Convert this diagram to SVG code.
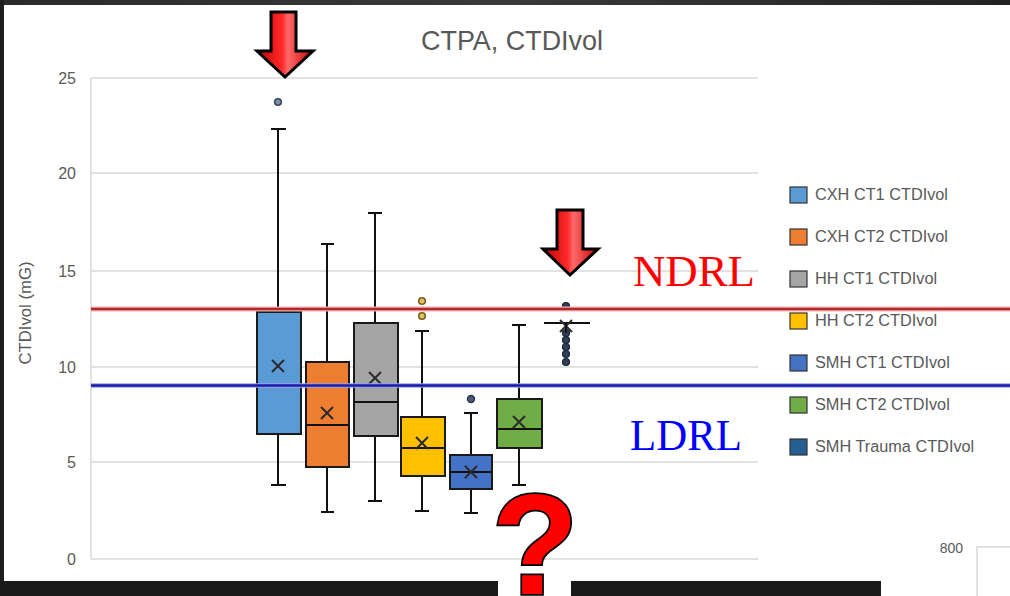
<svg xmlns="http://www.w3.org/2000/svg" width="1010" height="596" viewBox="0 0 1010 596">
<defs>
<linearGradient id="arrowFill" x1="0" y1="0" x2="1" y2="0">
<stop offset="0" stop-color="#c00000"/>
<stop offset="0.45" stop-color="#ff2a2a"/>
<stop offset="0.55" stop-color="#ff6a6a"/>
<stop offset="1" stop-color="#c80000"/>
</linearGradient>
<linearGradient id="topBand" x1="0" y1="0" x2="1" y2="0">
<stop offset="0" stop-color="#2a2a2a"/>
<stop offset="0.5" stop-color="#3a3a3a"/>
<stop offset="1" stop-color="#222"/>
</linearGradient>
</defs>
<style>
.grid{stroke:#d9d9d9;stroke-width:1.5;fill:none}
.axis{font-family:"Liberation Sans",Arial,sans-serif;font-size:16px;fill:#595959}
.leg{font-family:"Liberation Sans",Arial,sans-serif;font-size:16.3px;fill:#595959}
.box{stroke:#1a1a1a;stroke-width:2}
.wh{stroke:#111;stroke-width:2;fill:none}
.mean{stroke:#2b2b2b;stroke-width:2;fill:none}
.sw{stroke:#333;stroke-width:1.2}
.arrow{fill:url(#arrowFill);stroke:#000;stroke-width:3;stroke-linejoin:miter}
.ref{font-family:"Liberation Serif","Times New Roman",serif;font-size:44px}
</style>
<rect width="1010" height="596" fill="#ffffff"/>
<rect x="0" y="0" width="1010" height="5" fill="url(#topBand)"/>
<rect x="0" y="0" width="4" height="596" fill="#1e1e1e"/>
<rect x="0" y="581" width="881" height="15" fill="#1a1a1a"/>

<g id="chart-frame">
<text x="512" y="50" text-anchor="middle" font-family="Liberation Sans, Arial, sans-serif" font-size="28" fill="#595959" textLength="182" lengthAdjust="spacingAndGlyphs">CTPA, CTDIvol</text>
<line class="grid" x1="91" y1="78" x2="758" y2="78"/>
<line class="grid" x1="91" y1="173" x2="758" y2="173"/>
<line class="grid" x1="91" y1="271" x2="758" y2="271"/>
<line class="grid" x1="91" y1="367" x2="758" y2="367"/>
<line class="grid" x1="91" y1="462" x2="758" y2="462"/>
<line class="grid" x1="91" y1="559" x2="758" y2="559"/>
<line class="grid" x1="91" y1="78" x2="91" y2="559"/>
<text class="axis" x="76" y="84" text-anchor="end">25</text>
<text class="axis" x="76" y="179" text-anchor="end">20</text>
<text class="axis" x="76" y="277" text-anchor="end">15</text>
<text class="axis" x="76" y="373" text-anchor="end">10</text>
<text class="axis" x="76" y="468" text-anchor="end">5</text>
<text class="axis" x="76" y="565" text-anchor="end">0</text>
<text class="axis" transform="translate(31,313) rotate(-90)" text-anchor="middle" font-size="15" textLength="103" lengthAdjust="spacingAndGlyphs">CTDIvol (mG)</text>
</g>

<g id="box-cxh-ct1">
<line class="wh" x1="278" y1="129" x2="278" y2="312"/>
<line class="wh" x1="271" y1="129" x2="286" y2="129"/>
<line class="wh" x1="278" y1="434" x2="278" y2="485"/>
<line class="wh" x1="271" y1="485" x2="286" y2="485"/>
<rect class="box" x="257" y="312" width="44" height="122" fill="#5b9bd5"/>
<line class="wh" x1="257" y1="385" x2="301" y2="385"/>
<path class="mean" d="M272,360 L284,372 M284,360 L272,372"/>
<circle cx="278" cy="102" r="3.3" fill="#7f8fa6" stroke="#3a4a5e" stroke-width="1.6"/>
</g>

<g id="box-cxh-ct2">
<line class="wh" x1="327" y1="244" x2="327" y2="362"/>
<line class="wh" x1="321" y1="244" x2="334" y2="244"/>
<line class="wh" x1="327" y1="467" x2="327" y2="512"/>
<line class="wh" x1="321" y1="512" x2="334" y2="512"/>
<rect class="box" x="306" y="362" width="43" height="105" fill="#ed7d31"/>
<line class="wh" x1="306" y1="425" x2="349" y2="425"/>
<path class="mean" d="M321,407 L333,419 M333,407 L321,419"/>
</g>

<g id="box-hh-ct1">
<line class="wh" x1="375" y1="213" x2="375" y2="323"/>
<line class="wh" x1="368" y1="213" x2="382" y2="213"/>
<line class="wh" x1="375" y1="436" x2="375" y2="501"/>
<line class="wh" x1="368" y1="501" x2="382" y2="501"/>
<rect class="box" x="354" y="323" width="44" height="113" fill="#a5a5a5"/>
<line class="wh" x1="354" y1="402" x2="398" y2="402"/>
<path class="mean" d="M369,372 L381,384 M381,372 L369,384"/>
</g>

<g id="box-hh-ct2">
<line class="wh" x1="422" y1="331" x2="422" y2="417"/>
<line class="wh" x1="415" y1="331" x2="429" y2="331"/>
<line class="wh" x1="422" y1="476" x2="422" y2="511"/>
<line class="wh" x1="415" y1="511" x2="429" y2="511"/>
<rect class="box" x="401" y="417" width="44" height="59" fill="#ffc000"/>
<line class="wh" x1="401" y1="448" x2="445" y2="448"/>
<path class="mean" d="M416,437 L428,449 M428,437 L416,449"/>
<circle cx="422" cy="301" r="3.3" fill="#e3c060" stroke="#7a5e20" stroke-width="1.6"/>
<circle cx="422" cy="316" r="3.3" fill="#e3c060" stroke="#7a5e20" stroke-width="1.6"/>
</g>

<g id="box-smh-ct1">
<line class="wh" x1="471" y1="413" x2="471" y2="455"/>
<line class="wh" x1="464" y1="413" x2="478" y2="413"/>
<line class="wh" x1="471" y1="489" x2="471" y2="513"/>
<line class="wh" x1="464" y1="513" x2="478" y2="513"/>
<rect class="box" x="450" y="455" width="42" height="34" fill="#4472c4"/>
<line class="wh" x1="450" y1="472" x2="492" y2="472"/>
<path class="mean" d="M465,466 L477,478 M477,466 L465,478"/>
<circle cx="471" cy="399" r="3.5" fill="#4a5a78" stroke="#2a3548" stroke-width="1.4"/>
</g>

<g id="box-smh-ct2">
<line class="wh" x1="519" y1="325" x2="519" y2="399"/>
<line class="wh" x1="512" y1="325" x2="526" y2="325"/>
<line class="wh" x1="519" y1="448" x2="519" y2="485"/>
<line class="wh" x1="512" y1="485" x2="526" y2="485"/>
<rect class="box" x="497" y="399" width="45" height="49" fill="#70ad47"/>
<line class="wh" x1="497" y1="429" x2="542" y2="429"/>
<path class="mean" d="M513,416 L525,428 M525,416 L513,428"/>
</g>

<g id="box-smh-trauma">
<circle cx="566" cy="306" r="3.5" fill="#2f3f58" stroke="#1c2535" stroke-width="1.2"/>
<circle cx="566" cy="333" r="3.5" fill="#2f3f58" stroke="#1c2535" stroke-width="1.2"/>
<circle cx="566" cy="340" r="3.5" fill="#2f3f58" stroke="#1c2535" stroke-width="1.2"/>
<circle cx="566" cy="347" r="3.5" fill="#2f3f58" stroke="#1c2535" stroke-width="1.2"/>
<circle cx="566" cy="354" r="3.5" fill="#2f3f58" stroke="#1c2535" stroke-width="1.2"/>
<circle cx="566" cy="362" r="3.5" fill="#2f3f58" stroke="#1c2535" stroke-width="1.2"/>
<line class="wh" x1="544" y1="323" x2="590" y2="323"/>
<path class="mean" d="M560,320 L572,332 M572,320 L560,332"/>
<line class="wh" x1="566" y1="323" x2="566" y2="333"/>
</g>

<g id="connectors">
<line id="ndrl-line" x1="91" y1="309" x2="1010" y2="309" stroke="#f3b0b0" stroke-width="5"/>
<line x1="91" y1="309" x2="1010" y2="309" stroke="#b3282d" stroke-width="2.5"/>
<line id="ldrl-line" x1="91" y1="385.5" x2="1010" y2="385.5" stroke="#9aa0e8" stroke-width="4.5"/>
<line x1="91" y1="385.5" x2="1010" y2="385.5" stroke="#1b1ba8" stroke-width="2.5"/>
</g>

<g id="label-ndrl"><text class="ref" x="633" y="286" fill="#ff0000" textLength="122" lengthAdjust="spacingAndGlyphs">NDRL</text></g>
<g id="label-ldrl"><text class="ref" x="630" y="450" fill="#0000ff" textLength="112" lengthAdjust="spacingAndGlyphs">LDRL</text></g>

<g id="arrow-1"><path class="arrow" d="M271,12 H296 V51 H313 L285,77 L257,51 H271 Z"/></g>
<g id="arrow-2"><path class="arrow" d="M557,210 H583 V249 H598 L570,275 L543,249 H557 Z"/></g>

<g id="question-mark">
<rect x="498" y="575" width="73" height="21" fill="#ffffff"/>
<text x="535" y="594" text-anchor="middle" font-family="Liberation Sans, Arial, sans-serif" font-weight="bold" font-size="142" fill="#ff0000" stroke="#000" stroke-width="3.5" paint-order="stroke">?</text>
</g>

<g id="legend">
<rect class="sw" x="790" y="187" width="17" height="16" fill="#5b9bd5"/>
<text class="leg" x="815" y="200">CXH CT1 CTDIvol</text>
<rect class="sw" x="790" y="229" width="17" height="16" fill="#ed7d31"/>
<text class="leg" x="815" y="242">CXH CT2 CTDIvol</text>
<rect class="sw" x="790" y="271" width="17" height="16" fill="#a5a5a5"/>
<text class="leg" x="815" y="284">HH CT1 CTDIvol</text>
<rect class="sw" x="790" y="313" width="17" height="16" fill="#ffc000"/>
<text class="leg" x="815" y="326">HH CT2 CTDIvol</text>
<rect class="sw" x="790" y="355" width="17" height="16" fill="#4472c4"/>
<text class="leg" x="815" y="368">SMH CT1 CTDIvol</text>
<rect class="sw" x="790" y="397" width="17" height="16" fill="#70ad47"/>
<text class="leg" x="815" y="410">SMH CT2 CTDIvol</text>
<rect class="sw" x="790" y="439" width="17" height="16" fill="#255e91"/>
<text class="leg" x="815" y="452">SMH Trauma CTDIvol</text>
</g>

<g id="second-chart-corner">
<text x="963" y="553" text-anchor="end" font-family="Liberation Sans, Arial, sans-serif" font-size="14" fill="#595959">800</text>
<path d="M977,596 V547 H1010" fill="none" stroke="#d9d9d9" stroke-width="1.5"/>
</g>
</svg>
